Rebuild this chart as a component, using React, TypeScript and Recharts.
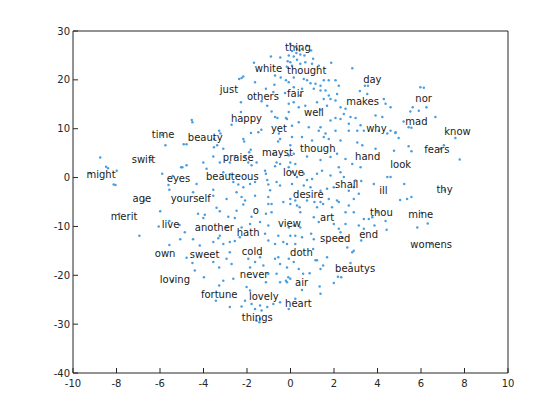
import React from 'react';
import { ScatterChart, Scatter, XAxis, YAxis } from 'recharts';

// word labels (text anchor = left edge, vertical middle)
const words = [
  'thing', 'white', 'thought', 'day', 'just', 'nor', 'others', 'fair', 'makes', 'mad',
  'well', 'happy', 'why', 'know', 'yet', 'time', 'beauty', 'fears', 'though', 'swift',
  'mayst', 'praise', 'hand', 'look', 'might', 'eyes', 'beauteous', 'love', 'shall', 'thy',
  'ill', 'age', 'yourself', 'desire', 'o', 'merit', 'thou', 'mine', 'live', 'another',
  'art', 'view', 'hath', 'speed', 'end', 'womens', 'own', 'sweet', 'cold', 'doth',
  'loving', 'never', 'air', 'beautys', 'fortune', 'lovely', 'heart', 'things',
];
const wordX = [
  -0.25, -1.64, -0.16, 3.34, -3.25, 5.74, -2.0, -0.16, 2.56, 5.28,
  0.62, -2.74, 3.48, 7.07, -0.9, -6.38, -4.72, 6.15, 0.44, -7.3,
  -1.31, -3.11, 2.97, 4.59, -9.38, -5.69, -3.89, -0.35, 2.05, 6.71,
  4.08, -7.26, -5.51, 0.12, -1.73, -8.27, 3.66, 5.41, -5.92, -4.4,
  1.36, -0.58, -2.47, 1.36, 3.16, 5.51, -6.24, -4.63, -2.24, -0.02,
  -6.01, -2.33, 0.21, 2.05, -4.12, -1.91, -0.25, -2.24,
];
const wordY = [
  26.6, 22.3, 21.9, 20.1, 18.0, 16.2, 16.6, 17.2, 15.6, 11.5,
  13.3, 12.1, 10.0, 9.4, 10.0, 8.8, 8.2, 5.7, 5.9, 3.7,
  5.1, 4.1, 4.3, 2.7, 0.6, -0.2, 0.2, 1.0, -1.4, -2.5,
  -2.7, -4.3, -4.3, -3.5, -6.8, -8.0, -7.2, -7.6, -9.6, -10.2,
  -8.2, -9.4, -11.3, -12.5, -11.7, -13.7, -15.6, -15.8, -15.1, -15.4,
  -20.9, -19.9, -21.5, -18.6, -23.9, -24.4, -25.8, -28.7,
];

const dotsFarLeft: [number, number][] = [
  [-5.75, 6.6], [-8.75, 4.1], [-8.48, 2.2], [-8.39, 1.9], [-7.99, 1.4], [-9.22, 0.9], [-8.13, -1.4],
  [-8.05, -1.5], [-5.9, 0.8], [-5.41, 0.3], [-5.61, -1.5], [-5.57, -2.5], [-6.72, -4.7], [-5.03, 2.1],
  [-5.9, 8.7], [-6.41, 3.6], [-7.87, -7.4], [-5.99, -6.9], [-6.06, -10.0], [-5.57, -8.9], [-5.1, -9.7],
  [-6.95, -11.9], [-5.57, -13.8], [-5.07, -12.6], [-5.41, -21.1],
];

const dotsUpperLeft: [number, number][] = [
  [-0.9, 24.8], [-0.47, 24.6], [-0.13, 23.8], [-0.17, 22.7], [-1.68, 23.5], [-0.71, 20.9], [-0.45, 20.5],
  [-0.21, 19.9], [-2.36, 20.2], [-2.25, 20.4], [-2.17, 20.7], [-1.63, 19.5], [-0.74, 19.0], [-1.13, 18.2],
  [-0.79, 17.5], [-0.25, 17.3], [-2.28, 15.4], [-1.33, 15.6], [-1.07, 14.7], [-2.28, 13.4], [-0.87, 13.5],
  [-0.71, 12.4], [-0.6, 12.2], [-0.21, 12.2], [-4.54, 11.8], [-4.51, 11.3], [-2.71, 10.8], [-1.34, 9.8],
  [-3.28, 9.6], [-3.22, 9.0], [-1.82, 9.1], [-1.48, 9.3], [-2.17, 7.9], [-2.13, 7.4], [-0.53, 9.0],
  [-0.48, 7.9], [-0.57, 7.4], [-3.51, 7.9], [-4.91, 6.8], [-4.78, 6.8], [-3.37, 6.6], [-3.09, 5.9],
  [-3.52, 6.2], [-1.83, 5.7], [-1.9, 5.2], [-2.56, 4.2], [-2.09, 4.2], [-1.56, 3.1], [-1.17, 1.4],
  [-0.79, 4.9], [-0.64, 3.1], [-0.48, 2.8], [-0.71, 2.3], [-4.78, 2.5], [-4.97, 2.1], [-4.01, 3.1],
  [-3.55, 4.3], [-3.25, 3.1], [-2.79, 3.1], [-1.94, 3.1], [-1.79, 2.5], [-3.09, 1.1], [-2.79, 0.7],
  [-3.86, 1.8], [-2.63, -0.9], [-2.4, -1.4], [-2.17, -2.0], [-1.86, -1.3], [-1.63, -0.9], [-1.13, 0.8],
  [-1.07, -0.5], [-1.02, -1.4], [-0.94, -2.6], [-0.64, -0.9], [-0.48, -1.6], [-4.32, -1.3], [-3.55, -2.5],
  [-3.55, -3.7], [-2.94, -4.4], [-2.48, -3.0], [-2.25, -4.0], [-2.09, -4.7], [-1.63, -3.7], [-1.02, -4.0],
  [-0.87, -5.4], [-0.33, -5.0], [-4.48, -3.0],
];

const dotsUpperRight: [number, number][] = [
  [-0.01, 27.4], [0.22, 26.8], [0.3, 26.3], [0.42, 26.0], [0.07, 25.9], [0.27, 25.5], [0.45, 25.2],
  [-0.08, 25.0], [0.15, 24.8], [0.64, 25.0], [0.95, 26.0], [0.53, 26.3], [0.76, 27.0], [1.04, 24.3],
  [0.3, 24.1], [0.68, 23.6], [0.99, 23.3], [1.3, 22.9], [1.87, 23.5], [-0.01, 23.6], [2.84, 22.4],
  [0.07, 22.9], [0.45, 23.3], [0.15, 20.5], [0.61, 20.2], [0.76, 19.9], [0.92, 19.3], [1.15, 19.2],
  [1.38, 18.8], [1.53, 19.9], [1.76, 19.9], [2.07, 19.9], [2.22, 18.8], [2.14, 17.1], [-0.08, 19.5],
  [0.15, 18.5], [0.53, 18.2], [0.45, 16.8], [1.07, 18.2], [1.38, 17.8], [1.61, 17.8], [1.76, 16.8],
  [1.53, 16.1], [1.84, 16.1], [2.07, 15.8], [3.42, 18.8], [3.56, 18.8], [3.19, 17.7], [3.53, 17.1],
  [0.15, 15.4], [-0.08, 15.1], [0.38, 14.4], [0.68, 14.7], [1.22, 15.4], [1.38, 13.9], [1.68, 14.7],
  [2.3, 14.4], [2.53, 14.1], [2.45, 13.0], [2.76, 12.4], [2.99, 12.2], [2.68, 11.0], [2.3, 12.0],
  [2.07, 12.2], [1.84, 11.7], [4.29, 16.1], [4.37, 15.1], [4.6, 14.4], [-0.08, 13.4], [-0.16, 12.0],
  [0.07, 10.6], [0.38, 11.3], [0.84, 10.3], [1.3, 9.6], [1.38, 10.3], [1.61, 9.0], [2.07, 9.6],
  [2.68, 9.6], [3.07, 9.6], [3.22, 10.7], [3.37, 9.6], [4.06, 9.6], [4.45, 9.0], [4.6, 9.6],
  [4.83, 9.3], [3.91, 12.7], [4.22, 12.4], [0.07, 8.3], [0.53, 8.3], [0.99, 7.6], [1.53, 8.3],
  [1.76, 7.9], [2.3, 7.6], [3.07, 7.2], [3.3, 6.6], [3.91, 5.9], [-0.01, 6.6], [-0.08, 4.5],
  [0.15, 4.9], [0.76, 4.3], [1.38, 3.6], [1.84, 4.2], [2.14, 4.9], [2.53, 3.8], [2.84, 2.8],
  [3.22, 2.1], [-0.01, 3.1], [0.22, 2.8], [-0.08, 2.1], [0.07, 1.1], [0.3, 0.1], [0.61, 0.8],
  [0.76, -0.5], [0.99, -0.3], [1.22, 0.8], [1.45, 1.4], [1.84, 0.4], [2.22, 2.1], [2.3, 1.1],
  [2.45, 0.1], [2.99, -0.6], [3.25, -0.7], [3.83, -1.3], [4.45, 0.1], [4.6, 0.1], [0.07, -1.3],
  [0.61, -1.6], [0.92, -2.0], [1.38, -2.7], [1.68, -2.3], [1.99, -2.0], [2.68, -2.7], [2.91, -2.0],
  [3.14, -3.3], [-0.01, -4.4], [0.22, -4.7], [0.76, -4.7], [1.38, -5.0], [1.76, -4.4], [2.14, -4.7],
  [2.91, -4.4], [4.76, 5.5],
];

const dotsFarRight: [number, number][] = [
  [5.97, 18.5], [6.13, 18.4], [5.62, 14.4], [5.51, 13.5], [5.9, 13.7], [6.25, 14.4], [6.66, 12.4],
  [5.2, 11.5], [5.43, 10.3], [5.56, 10.2], [4.82, 9.1], [4.97, 8.1], [5.43, 6.4], [5.56, 5.4],
  [7.05, 6.6], [6.89, 5.9], [7.58, 8.1], [7.78, 3.7], [5.23, -1.3], [5.04, -4.6], [5.36, -4.4],
  [5.56, -4.0], [7.09, -2.6], [6.02, -7.2], [6.31, -9.4], [5.83, -10.2], [6.48, -13.6],
];

const dotsLowerLeft: [number, number][] = [
  [-3.4, -6.2], [-2.17, -5.5], [-1.02, -5.4], [-4.25, -7.4], [-3.94, -7.6], [-4.01, -8.3], [-3.25, -6.9],
  [-2.86, -8.0], [-2.56, -8.3], [-2.48, -6.8], [-1.79, -8.0], [-1.86, -9.5], [-1.4, -9.1], [-1.13, -7.4],
  [-0.87, -7.1], [-1.02, -9.8], [-4.86, -11.2], [-4.48, -12.6], [-4.17, -13.9], [-3.55, -13.2], [-3.32, -12.4],
  [-3.09, -13.6], [-2.79, -13.2], [-2.56, -13.0], [-2.33, -12.2], [-2.25, -10.2], [-2.94, -10.2], [-3.25, -11.9],
  [-1.17, -11.5], [-1.02, -12.9], [-0.56, -11.9], [-0.71, -13.6], [-0.33, -13.2], [-4.78, -16.4], [-4.51, -17.5],
  [-4.4, -19.0], [-3.98, -20.4], [-3.55, -17.3], [-3.28, -18.4], [-2.94, -16.6], [-2.79, -15.3], [-2.71, -17.7],
  [-3.09, -21.1], [-3.28, -22.1], [-2.63, -20.7], [-1.94, -16.6], [-1.86, -18.4], [-1.63, -17.3], [-1.4, -16.3],
  [-1.25, -18.0], [-1.02, -19.7], [-1.13, -21.4], [-0.71, -16.6], [-0.56, -16.3], [-0.48, -17.7], [-0.64, -19.7],
  [-0.48, -21.4], [-0.21, -21.1], [-0.1, -20.4], [-2.02, -22.4], [-1.86, -23.1], [-2.09, -25.2], [-2.25, -26.4],
  [-1.79, -25.9], [-1.63, -26.9], [-1.4, -26.2], [-1.33, -27.2], [-1.4, -28.9], [-1.07, -26.5], [-0.79, -25.9],
  [-0.48, -25.5], [-2.79, -26.5], [-3.43, -25.2], [-1.56, -29.3], [-1.43, -29.6],
];

const dotsLowerRight: [number, number][] = [
  [-0.01, -5.4], [0.3, -5.7], [0.45, -7.1], [0.42, -6.1], [1.1, -5.0], [1.22, -6.1], [1.5, -5.4],
  [1.91, -6.1], [2.22, -5.0], [2.68, -5.7], [2.53, -7.1], [2.91, -7.1], [1.07, -8.1], [1.3, -9.1],
  [1.99, -9.5], [2.53, -9.5], [3.14, -9.8], [3.37, -8.5], [3.6, -8.5], [3.76, -8.1], [3.99, -7.1],
  [3.86, -9.8], [4.37, -8.9], [4.42, -10.7], [3.37, -10.5], [3.25, -12.9], [-0.08, -10.2], [0.15, -9.8],
  [0.45, -10.2], [-0.01, -11.9], [0.22, -11.9], [0.53, -12.2], [-0.16, -13.6], [0.22, -13.6], [0.95, -11.5],
  [1.07, -12.6], [2.22, -10.5], [2.3, -11.2], [2.38, -12.2], [2.61, -14.3], [2.91, -15.0], [2.84, -15.3],
  [1.04, -14.6], [1.68, -16.3], [1.15, -16.9], [1.22, -16.9], [1.5, -18.0], [1.38, -18.7], [2.76, -17.5],
  [2.18, -20.3], [2.33, -20.4], [1.99, -21.6], [-0.08, -16.6], [0.15, -17.3], [-0.16, -18.4], [0.38, -18.7],
  [0.58, -19.7], [0.88, -19.6], [-0.01, -20.7], [-0.16, -21.4], [0.53, -23.0], [1.34, -22.3], [1.38, -23.8],
  [0.22, -24.8], [-0.08, -26.9],
];

const xTicks = [-10, -8, -6, -4, -2, 0, 2, 4, 6, 8, 10];
const yTicks = [-40, -30, -20, -10, 0, 10, 20, 30];

const dotData = [
  ...dotsFarLeft, ...dotsUpperLeft, ...dotsUpperRight,
  ...dotsFarRight, ...dotsLowerLeft, ...dotsLowerRight,
].map(([x, y]) => ({ x, y }));

const wordData = words.map((word, i) => ({ x: wordX[i], y: wordY[i], word }));

const axisColor = '#262626';

const Dot = (props: any) => (
  <circle cx={props.cx} cy={props.cy} r={1.25} fill="#4a9ee0" />
);

const Word = (props: any) => (
  <text x={props.cx} y={props.cy} dy="0.35em" fontSize={10} fill="#1a1a1a">
    {props.payload.word}
  </text>
);

const NoMark = () => <g />;

export default function App() {
  return (
    <div style={{ position: 'absolute', left: 0, top: 0, background: '#fff' }}>
      <ScatterChart
        width={560}
        height={420}
        margin={{ top: 30, right: 51, bottom: 17, left: 0 }}
        style={{ fontFamily: 'DejaVu Sans' }}
      >
        <XAxis
          xAxisId="b"
          type="number"
          dataKey="x"
          domain={[-10, 10]}
          ticks={xTicks}
          height={30}
          stroke={axisColor}
          tickSize={-5}
          tickMargin={12}
          tick={{ fill: axisColor, fontSize: 10 }}
          allowDataOverflow
        />
        <XAxis
          xAxisId="t"
          orientation="top"
          type="number"
          dataKey="x"
          domain={[-10, 10]}
          ticks={xTicks}
          height={1}
          stroke={axisColor}
          tickSize={-5}
          tick={false}
          allowDataOverflow
        />
        <YAxis
          yAxisId="l"
          type="number"
          dataKey="y"
          domain={[-40, 30]}
          ticks={yTicks}
          width={73}
          stroke={axisColor}
          tickSize={-5}
          tickMargin={8}
          tick={{ fill: axisColor, fontSize: 10 }}
          allowDataOverflow
        />
        <YAxis
          yAxisId="r"
          orientation="right"
          type="number"
          dataKey="y"
          domain={[-40, 30]}
          ticks={yTicks}
          width={1}
          stroke={axisColor}
          tickSize={-5}
          tick={false}
          allowDataOverflow
        />
        <Scatter xAxisId="t" yAxisId="r" data={wordData} shape={NoMark} isAnimationActive={false} />
        <Scatter xAxisId="b" yAxisId="l" data={dotData} shape={Dot} isAnimationActive={false} />
        <Scatter xAxisId="b" yAxisId="l" data={wordData} shape={Word} isAnimationActive={false} />
      </ScatterChart>
    </div>
  );
}
